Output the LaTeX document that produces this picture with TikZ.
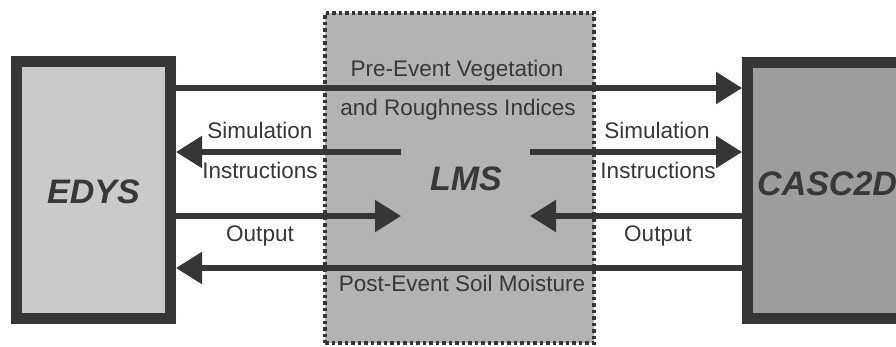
\documentclass[tikz,border=0pt]{standalone}
\usepackage{fontspec}
\setmainfont{Liberation Sans}
\usetikzlibrary{arrows.meta}
\definecolor{dk}{HTML}{363636}
\definecolor{edysfill}{HTML}{C9CACC}
\definecolor{lmsfill}{HTML}{B3B3B4}
\definecolor{cascfill}{HTML}{9C9D9F}
\definecolor{txt}{HTML}{383838}
\begin{document}
\begin{tikzpicture}[x=1pt,y=-1pt,
  model/.style={draw=dk,line width=11pt,rectangle,inner sep=0pt},
  lmsbox/.style={draw=dk,fill=lmsfill,line width=4pt,dash pattern=on 3.5pt off 3pt,rectangle,inner sep=0pt},
  bigname/.style={font=\fontsize{34}{34}\selectfont\bfseries\itshape,text=txt,inner sep=0pt,anchor=base},
  flow/.style={draw=dk,line width=5.5pt,-{Triangle[length=26pt,width=31pt]}},
  lbl/.style={font=\fontsize{22.5}{22.5}\selectfont,text=txt,inner sep=0pt,anchor=base}]
\useasboundingbox (0,0) rectangle (896,346);
\clip (0,0) rectangle (896,346);
\fill[white] (0,0) rectangle (896,346);
% boxes
\node[lmsbox, minimum width=269pt, minimum height=330.5pt] (lms) at (459.5,177.75) {};
\node[model, fill=edysfill, minimum width=154pt, minimum height=257pt] (edys) at (93.5,190) {};
\node[model, fill=cascfill, minimum width=212.5pt, minimum height=256pt] (casc) at (853.75,190.5) {};
% names
\node[bigname] (edysl) at (93.5,203) {EDYS};
\node[bigname] (lmsl) at (466,190) {LMS};
\node[bigname, anchor=base west] (cascl) at (757,195) {CASC2D};
% helper coordinates
\coordinate (ya) at (0,88);
\coordinate (yb) at (0,152);
\coordinate (yc) at (0,216);
\coordinate (yd) at (0,268);
\coordinate (simL) at (401,152);
\coordinate (simR) at (530,152);
\coordinate (outL) at (401,216);
\coordinate (outR) at (530,216);
% connectors
\draw[flow] (edys.east |- ya) -- (casc.west |- ya);
\draw[flow] (simL) -- (edys.east |- yb);
\draw[flow] (simR) -- (casc.west |- yb);
\draw[flow] (edys.east |- yc) -- (outL);
\draw[flow] (casc.west |- yc) -- (outR);
\draw[flow] (casc.west |- yd) -- (edys.east |- yd);
% labels
\node[lbl] (pre) at (457,76) {Pre-Event Vegetation};
\node[lbl] (rough) at (458,115) {and Roughness Indices};
\node[lbl] (simla) at (260,138) {Simulation};
\node[lbl] (insla) at (260,178) {Instructions};
\node[lbl] (simlb) at (657,138) {Simulation};
\node[lbl] (inslb) at (658,178) {Instructions};
\node[lbl] (outla) at (260,241) {Output};
\node[lbl] (outlb) at (658,241) {Output};
\node[lbl] (post) at (462,291) {Post-Event Soil Moisture};
\end{tikzpicture}
\end{document}
